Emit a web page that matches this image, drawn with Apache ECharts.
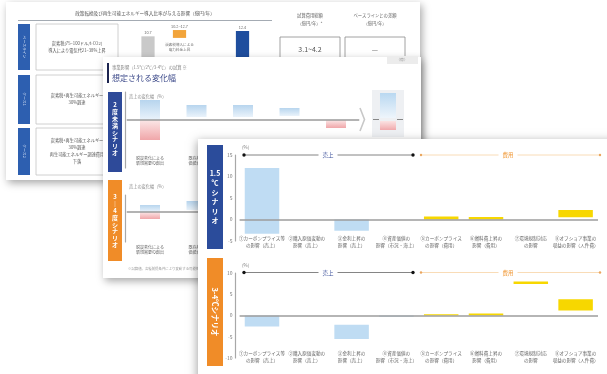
<!DOCTYPE html>
<html><head><meta charset="utf-8">
<script src="https://cdn.jsdelivr.net/npm/echarts@6/dist/echarts.min.js"></script>
<style>html,body{margin:0;padding:0;background:#fff}#c{width:607px;height:374px}</style>
</head><body><div id="c"></div>
<script>
// ---------- data ----------
// front slide: impact of each factor (%), drawn as [low, high] ranges
const frontCategories = [
  '①カーボンプライス等\nの影響（売上）', '②購入原価変動の\n影響（売上）', '③金利上昇の\n影響（売上）', '④資産価値の\n影響（市況・海上）',
  '⑤カーボンプライス\nの影響（費用）', '⑥燃料費上昇の\n影響（費用）', '⑦環境規制対応\nの影響', '⑧オフショア事業の\n収益の影響（人件費）'
];
const frontGroups = ['売上', '売上', '売上', '売上', '費用', '費用', '費用', '費用'];
const scenario15Low  = [-3.3, 0, -2.6, 0, 0, 0, 0, 0.5];
const scenario15High = [12.0, 0, 0, 0, 0.7, 0.6, 0, 2.2];
const scenario34Low  = [-2.6, 0, -5.5, -0.3, 0, 0, 7.4, 1.2];
const scenario34High = [0, 0, -2.2, 0, 0.3, 0.5, 8.0, 3.8];
const ticks15 = [-5, 0, 5, 10, 15];
const ticks34 = [-10, -5, 0, 5, 10];

// middle slide: expected range of sales change
const midCategories = ['脱炭素化による\n新規需要の創出', '既存船の\n価値減少', '燃料価格の\n上昇', '運賃への\n転嫁', '炭素税の\n導入'];
const under2UpLow    = [0, 1.5, 1.5, 2, 0];
const under2UpHigh   = [10, 7.5, 7.5, 6, 0];
const under2DownLow  = [-10, 0, 0, 0, -4];
const under2DownHigh = [0, 0, 0, 0, 0];
const mid34UpLow     = [0, 1, 1.5, 0.5, 0];
const mid34UpHigh    = [3.5, 5.5, 4, 2.5, 0];
const mid34DownLow   = [-3.5, 0, 0, -1, -2];
const mid34DownHigh  = [0, 0, 0, 0, 0];
const summaryUpLow = [0.5], summaryUpHigh = [13];
const summaryDownLow = [-5.5], summaryDownHigh = [-1];

// back slide: cost build-up (億円/年)
const costCategories = ['基準', '増加', '', '合計'];
const costLow  = [0, 10.2, 0, 0];
const costHigh = [10.7, 12.7, 0, 12.4];

// ---------- chart ----------
const FONT = '"Noto Sans CJK JP","Noto Sans",sans-serif';
const chart = echarts.init(document.getElementById('c'));
const LG = (c0, c1) => new echarts.graphic.LinearGradient(0, 0, 0, 1, [{offset: 0, color: c0}, {offset: 1, color: c1}]);

function txt(x, y, text, o) {
  o = o || {};
  return {
    type: 'text', x: x, y: y, z: o.z || 0, rotation: o.rotation || 0,
    style: {
      text: text, fill: o.color || '#555', fontSize: o.size || 5, fontFamily: FONT,
      fontWeight: o.weight || 'normal', lineHeight: o.lh,
      align: o.align || 'center', textAlign: o.align || 'center',
      verticalAlign: o.va || 'middle', textVerticalAlign: o.va || 'middle',
      backgroundColor: o.bg, padding: o.pad
    }
  };
}
function rect(x, y, w, h, o) {
  return {
    type: 'rect', z: o.z || 0, shape: {x: x, y: y, width: w, height: h},
    style: {fill: o.fill || 'none', stroke: o.stroke, lineWidth: o.lw || 0,
      shadowBlur: o.sb || 0, shadowColor: o.sc || 'rgba(0,0,0,0)', shadowOffsetX: o.sx || 0, shadowOffsetY: o.sy || 0}
  };
}
function line(x1, y1, x2, y2, o) {
  return {type: 'line', z: o.z || 0, shape: {x1: x1, y1: y1, x2: x2, y2: y2},
    style: {stroke: o.color, lineWidth: o.lw || 1}};
}
function dot(x, y, r, color, z) {
  return {type: 'circle', z: z, shape: {cx: x, cy: y, r: r}, style: {fill: color}};
}

// floating range bars, positioned through the cartesian axes
function rangeSeries(o) {
  const s = {
    type: 'custom', coordinateSystem: 'cartesian2d', xAxisIndex: o.axis, yAxisIndex: o.axis, z: o.z,
    silent: true,
    data: o.low.map((lo, i) => [i, lo, o.high[i]]),
    encode: {x: 0, y: [1, 2]},
    renderItem: function (params, api) {
      const i = api.value(0), lo = api.value(1), hi = api.value(2);
      if (lo === hi) return null;
      const top = api.coord([i, hi]), bot = api.coord([i, lo]);
      const w = api.size([1, 0])[0] * o.ratio;
      const children = [{type: 'rect', shape: {x: top[0] - w / 2, y: top[1], width: w, height: bot[1] - top[1]},
        style: {fill: o.fill(i)}}];
      if (o.label) {
        children.push({type: 'text', style: {text: o.label(lo, hi, i), x: top[0], y: top[1] - 1.5,
          fill: '#666', fontSize: 3.8, fontFamily: FONT, align: 'center', textAlign: 'center',
          verticalAlign: 'bottom', textVerticalAlign: 'bottom'}});
      }
      return {type: 'group', children: children};
    }
  };
  if (o.zero) {
    s.markLine = {silent: true, symbol: 'none', z: o.z + 1, animation: false,
      label: {show: false}, lineStyle: {color: o.zero, width: 1.6, type: 'solid'}, data: [{yAxis: 0}]};
  }
  return s;
}

const frontColor = i => frontGroups[i] === '売上' ? '#bfdcf3' : '#f7d700';
const costColors = ['#c9c9c9', '#f2a43a', '#ffffff', '#1f4e9e'];

function catAxis(grid, data, z, o) {
  o = o || {};
  return {type: 'category', gridIndex: grid, data: data, z: z, show: o.show !== false,
    axisLine: {show: false}, axisTick: {show: false}, splitLine: {show: false},
    axisLabel: {show: o.labels !== false, interval: 0, fontSize: o.size || 4.5, lineHeight: o.lh || 6,
      color: '#666', fontFamily: FONT, margin: o.margin || 0}};
}
function valAxis(grid, min, max, z, o) {
  o = o || {};
  return {type: 'value', gridIndex: grid, min: min, max: max, interval: o.interval, z: z,
    offset: o.offset || 0,
    axisLine: {show: !!o.line, lineStyle: {color: '#a8a8a8', width: 1.2}},
    axisTick: {show: false}, splitLine: {show: false},
    axisLabel: {show: !!o.labels, fontSize: 5, color: '#777', fontFamily: FONT, margin: 3}};
}

const grids = [
  {left: 132.25, top: 25, width: 126, height: 45},     // back slide cost chart
  {left: 126.75, top: 92, width: 232.5, height: 76},   // middle slide, 2度未満
  {left: 126.75, top: 195, width: 232.5, height: 47},  // middle slide, 3-4度
  {left: 372, top: 90, width: 32, height: 47},         // middle slide summary
  {left: 239.6, top: 155, width: 358.4, height: 86},   // front, 1.5℃
  {left: 239.6, top: 273, width: 358.4, height: 85}    // front, 3-4℃
].map(g => Object.assign(g, {containLabel: false, outerBoundsMode: 'none'}));

const xAxes = [
  catAxis(0, costCategories, 2, {show: false}),
  catAxis(1, midCategories, 11, {margin: -12, size: 4, lh: 5}),
  catAxis(2, midCategories, 11, {margin: 3, size: 4, lh: 5}),
  catAxis(3, [''], 11, {show: false}),
  catAxis(4, frontCategories, 21, {margin: -6, size: 4.6, lh: 7}),
  catAxis(5, frontCategories, 21, {margin: -8, size: 4.6, lh: 7})
];
const yAxes = [
  valAxis(0, 0, 14.3, 2),
  valAxis(1, -24, 14, 11, {line: true, offset: 2}),
  valAxis(2, -15, 8.5, 11, {line: true, offset: 2}),
  valAxis(3, -9, 14.5, 11),
  valAxis(4, ticks15[0], ticks15[ticks15.length - 1], 21, {line: true, labels: true, offset: 4, interval: ticks15[1] - ticks15[0]}),
  valAxis(5, ticks34[0], ticks34[ticks34.length - 1], 21, {line: true, labels: true, offset: 4, interval: ticks34[1] - ticks34[0]})
];

const upFill = () => LG('#b7d5ee', '#eaf3fb');
const downFill = () => LG('#fbe7e7', '#f0a6a9');

const series = [
  rangeSeries({axis: 0, low: costLow, high: costHigh, ratio: 0.42, z: 3, fill: i => costColors[i],
    label: (lo, hi, i) => i === 1 ? lo.toFixed(1) + '~' + hi.toFixed(1) : hi.toFixed(1)}),
  rangeSeries({axis: 1, low: under2UpLow, high: under2UpHigh, ratio: 0.43, z: 12, fill: upFill, zero: '#9a9a9a'}),
  rangeSeries({axis: 1, low: under2DownLow, high: under2DownHigh, ratio: 0.43, z: 12, fill: downFill}),
  rangeSeries({axis: 2, low: mid34UpLow, high: mid34UpHigh, ratio: 0.43, z: 12, fill: upFill, zero: '#9a9a9a'}),
  rangeSeries({axis: 2, low: mid34DownLow, high: mid34DownHigh, ratio: 0.43, z: 12, fill: downFill}),
  rangeSeries({axis: 3, low: summaryUpLow, high: summaryUpHigh, ratio: 0.5, z: 12, fill: () => LG('#b9d8f1', '#eef5fb')}),
  rangeSeries({axis: 3, low: summaryDownLow, high: summaryDownHigh, ratio: 0.5, z: 12, fill: () => LG('#fbe3e3', '#f1aaad')}),
  rangeSeries({axis: 4, low: scenario15Low, high: scenario15High, ratio: 0.77, z: 22, fill: frontColor, zero: '#9c9c9c'}),
  rangeSeries({axis: 5, low: scenario34Low, high: scenario34High, ratio: 0.77, z: 22, fill: frontColor, zero: '#9c9c9c'})
];

const vstack = s => s.split('').join('\n');

const graphics = [
  // ---- back slide ----
  rect(6, 2, 414, 178, {fill: '#fff', z: 1, sb: 8, sc: 'rgba(0,0,0,0.35)', sx: 2, sy: 3}),
  txt(145, 13, '政策転換及び再生可能エネルギー導入比率が与える影響（億円/年）', {size: 4.6, color: '#555', z: 2}),
  line(18, 20.5, 272, 20.5, {color: '#9aa2aa', lw: 0.9, z: 2}),
  txt(310, 19, '試算費用総額\n（億円/年）*', {size: 4.3, lh: 8, color: '#666', z: 2}),
  txt(375, 19, 'ベースラインとの差額\n（億円/年）', {size: 4.3, lh: 8, color: '#666', z: 2}),
  rect(280, 37, 60, 35, {stroke: '#8a8a8a', lw: 0.8, z: 2}),
  rect(345, 37, 60, 35, {stroke: '#8a8a8a', lw: 0.8, z: 2}),
  txt(310, 49, '3.1~4.2', {size: 7, color: '#555', z: 2}),
  txt(375, 49, '—', {size: 7, color: '#666', z: 2}),
  rect(18, 24, 12, 46, {fill: '#2d5fb0', z: 2}),
  rect(18, 75, 12, 49, {fill: '#2d5fb0', z: 2}),
  rect(18, 128, 12, 47, {fill: '#2d5fb0', z: 2}),
  txt(24, 47, 'ベースライン', {size: 3.8, color: '#dfe8f7', rotation: -Math.PI / 2, z: 3}),
  txt(24, 99, 'ケース1', {size: 3.8, color: '#dfe8f7', rotation: -Math.PI / 2, z: 3}),
  txt(24, 151, 'ケース2', {size: 3.8, color: '#dfe8f7', rotation: -Math.PI / 2, z: 3}),
  rect(36, 24, 82, 46, {stroke: '#c4c4c4', lw: 0.8, z: 2}),
  rect(36, 75, 82, 49, {stroke: '#c4c4c4', lw: 0.8, z: 2}),
  rect(36, 128, 82, 47, {stroke: '#c4c4c4', lw: 0.8, z: 2}),
  txt(77, 47, '炭素税(75~100ドル/t-CO2)\n導入により電気代21~38%上昇', {size: 4.2, lh: 7, color: '#555', z: 2}),
  txt(77, 99, '炭素税+再生可能エネルギー\n30%調達', {size: 4.2, lh: 7, color: '#555', z: 2}),
  txt(77, 151, '炭素税+再生可能エネルギー\n30%調達\n再生可能エネルギー調達費用\n下落', {size: 4.2, lh: 7, color: '#555', z: 2}),
  txt(179.5, 47, '炭素税導入による\n電力料金上昇', {size: 3.6, lh: 4.5, color: '#777', z: 3}),
  line(143, 51, 153, 51, {color: '#777', lw: 1, z: 3}),

  // ---- middle slide ----
  rect(103, 57, 318, 221, {fill: '#fff', z: 10, sb: 8, sc: 'rgba(0,0,0,0.35)', sx: 2, sy: 3}),
  rect(387, 56, 31, 8, {fill: '#ececec', z: 11}),
  txt(402, 60, '（億）', {size: 3.8, color: '#999', z: 12}),
  rect(107, 63, 2, 20, {fill: '#1c2450', z: 11}),
  txt(112, 67, '事業影響（1.5℃/2℃/3-4℃）の試算 ※', {size: 4.3, color: '#888', align: 'left', z: 11}),
  txt(112, 78, '想定される変化幅', {size: 8, color: '#3d4a8a', align: 'left', z: 11}),
  rect(108, 92, 14, 80, {fill: '#2e4a99', z: 11}),
  txt(115, 129, vstack('2度未満シナリオ'), {size: 6, lh: 6.8, color: '#fff', weight: 'bold', z: 12}),
  rect(108, 180, 14, 81, {fill: '#f08c28', z: 11}),
  txt(115, 221, '3\n｜\n4\n度\nシ\nナ\nリ\nオ', {size: 6, lh: 6.8, color: '#fff', weight: 'bold', z: 12}),
  txt(129, 96, '売上の変化幅（%）', {size: 4.2, color: '#888', align: 'left', z: 12}),
  txt(129, 186, '売上の変化幅（%）', {size: 4.2, color: '#888', align: 'left', z: 12}),
  {type: 'polyline', z: 12, shape: {points: [[360, 108], [364.5, 119.5], [360, 131]]}, style: {stroke: '#c8c8c8', lineWidth: 1.6, fill: 'none'}},
  rect(372, 90, 32, 47, {fill: '#eef0f3', z: 11}),
  line(373, 119.5, 379, 119.5, {color: '#888', lw: 1, z: 13}),
  line(397, 119.5, 403, 119.5, {color: '#888', lw: 1, z: 13}),
  txt(128, 269, '※試算値。各種前提条件により変動する可能性があります。 出典：各種公開資料をもとに作成', {size: 3.4, color: '#999', align: 'left', z: 12}),

  // ---- front slide ----
  rect(198, 139, 430, 260, {fill: '#fff', z: 20, sb: 9, sc: 'rgba(0,0,0,0.35)', sx: -1, sy: 2}),
  rect(207, 145, 16, 104, {fill: '#2b4c9b', z: 21}),
  txt(215, 197, '1.5\n℃\nシ\nナ\nリ\nオ', {size: 7, lh: 9.5, color: '#fff', weight: 'bold', z: 22}),
  rect(207, 258, 16, 108, {fill: '#f08c28', z: 21}),
  txt(215, 312, '3-4℃シナリオ', {size: 7.5, color: '#fff', weight: 'bold', rotation: -Math.PI / 2, z: 22}),
  txt(242, 147, '(%)', {size: 4.5, color: '#777', align: 'left', z: 22}),
  txt(242, 265, '(%)', {size: 4.5, color: '#777', align: 'left', z: 22})
];

// group headers (売上 / 費用) above each front chart
[155, 272.5].forEach(y => {
  graphics.push(
    line(244, y, 413, y, {color: '#666', lw: 0.8, z: 22}),
    dot(244, y, 1.7, '#111', 23), dot(413, y, 1.7, '#111', 23),
    txt(328, y, '売上', {size: 5.5, color: '#3a4f9a', bg: '#fff', pad: [0, 4], z: 23}),
    line(421, y, 600, y, {color: '#f8d3a4', lw: 0.8, z: 22}),
    dot(421, y, 1.2, '#eaa65e', 23), dot(600, y, 1.2, '#eaa65e', 23),
    txt(508, y, '費用', {size: 5.5, color: '#f0952f', bg: '#fff', pad: [0, 4], z: 23})
  );
});

chart.setOption({
  animation: false,
  backgroundColor: '#ffffff',
  textStyle: {fontFamily: FONT},
  grid: grids,
  xAxis: xAxes,
  yAxis: yAxes,
  series: series,
  graphic: {elements: graphics}
});
</script>
</body></html>
